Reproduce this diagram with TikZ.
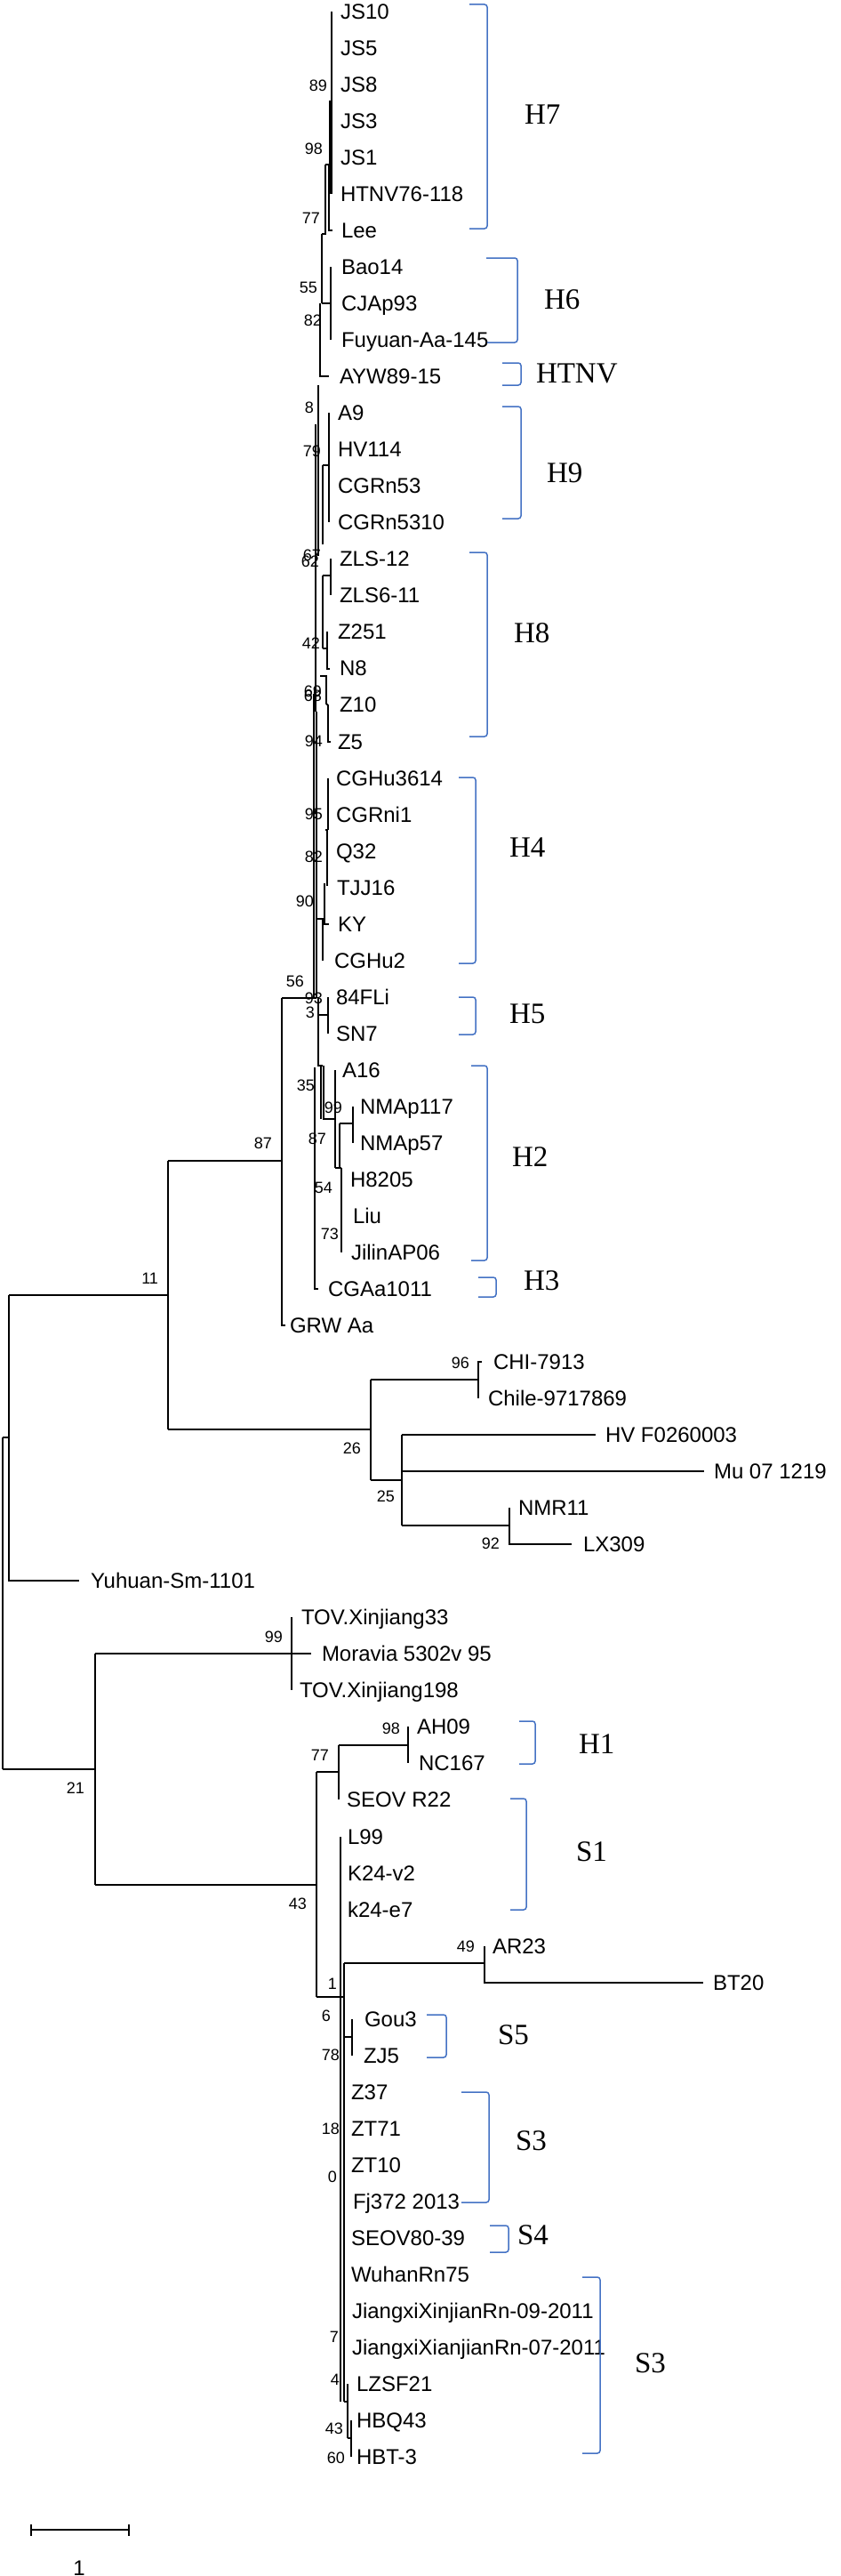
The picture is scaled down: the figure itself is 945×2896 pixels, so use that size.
\documentclass[tikz,border=0pt]{standalone}
\usepackage{fontspec}
\setmainfont{Liberation Sans}
\newfontfamily\cladeserif{Liberation Serif}
\definecolor{bblue}{RGB}{68,114,196}
\newcommand\LeafFont{\fontsize{24}{28}\selectfont}
\newcommand\BsFont{\fontsize{18}{20}\selectfont}
\newcommand\CladeFont{\cladeserif\fontsize{33}{36}\selectfont}
\tikzset{
  br/.style={line width=1.3pt},
  leaf/.style={anchor=base west, inner sep=0pt, outer sep=0pt, font=\LeafFont, yshift=-8.6pt},
  bs/.style={anchor=base east, inner sep=0pt, outer sep=0pt, font=\BsFont, yshift=-6.4pt},
  clade/.style={anchor=base west, inner sep=0pt, outer sep=0pt, font=\CladeFont, yshift=-10.9pt},
  bracket/.style={draw=bblue, line width=1.5pt, rounded corners=3pt},
}
\begin{document}
\begin{tikzpicture}[x=1pt,y=-1pt]
\fill[white] (0,0) rectangle (945,2896);
\useasboundingbox (0,0) rectangle (945,2896);

% ---------------- leaves ----------------
\node[leaf] (l1) at (383,13) {JS10};
\node[leaf] (l2) at (383,54) {JS5};
\node[leaf] (l3) at (383,95) {JS8};
\node[leaf] (l4) at (383,136) {JS3};
\node[leaf] (l5) at (383,177) {JS1};
\node[leaf] (l6) at (383,218) {HTNV76-118};
\node[leaf] (l7) at (384,259) {Lee};
\node[leaf] (l8) at (384,300) {Bao14};
\node[leaf] (l9) at (384,341) {CJAp93};
\node[leaf] (l10) at (384,382) {Fuyuan-Aa-145};
\node[leaf] (l11) at (382,423) {AYW89-15};
\node[leaf] (l12) at (380,464) {A9};
\node[leaf] (l13) at (380,505) {HV114};
\node[leaf] (l14) at (380,546) {CGRn53};
\node[leaf] (l15) at (380,587) {CGRn5310};
\node[leaf] (l16) at (382,628) {ZLS-12};
\node[leaf] (l17) at (382,669) {ZLS6-11};
\node[leaf] (l18) at (380,710) {Z251};
\node[leaf] (l19) at (382,751) {N8};
\node[leaf] (l20) at (382,792) {Z10};
\node[leaf] (l21) at (380,834) {Z5};
\node[leaf] (l22) at (378,875) {CGHu3614};
\node[leaf] (l23) at (378,916) {CGRni1};
\node[leaf] (l24) at (378,957) {Q32};
\node[leaf] (l25) at (379,998) {TJJ16};
\node[leaf] (l26) at (380,1039) {KY};
\node[leaf] (l27) at (376,1080) {CGHu2};
\node[leaf] (l28) at (378,1121) {84FLi};
\node[leaf] (l29) at (378,1162) {SN7};
\node[leaf] (l30) at (385,1203) {A16};
\node[leaf] (l31) at (405,1244) {NMAp117};
\node[leaf] (l32) at (405,1285) {NMAp57};
\node[leaf] (l33) at (394,1326) {H8205};
\node[leaf] (l34) at (397,1367) {Liu};
\node[leaf] (l35) at (395,1408) {JilinAP06};
\node[leaf] (l36) at (369,1449) {CGAa1011};
\node[leaf] (l37) at (326,1490) {GRW Aa};
\node[leaf] (l38) at (555,1531) {CHI-7913};
\node[leaf] (l39) at (549,1572) {Chile-9717869};
\node[leaf] (l40) at (681,1613) {HV F0260003};
\node[leaf] (l41) at (803,1654) {Mu 07 1219};
\node[leaf] (l42) at (583,1695) {NMR11};
\node[leaf] (l43) at (656,1736) {LX309};
\node[leaf] (l44) at (102,1777) {Yuhuan-Sm-1101};
\node[leaf] (l45) at (339,1818) {TOV.Xinjiang33};
\node[leaf] (l46) at (362,1859) {Moravia 5302v 95};
\node[leaf] (l47) at (337,1900) {TOV.Xinjiang198};
\node[leaf] (l48) at (469,1941) {AH09};
\node[leaf] (l49) at (471,1982) {NC167};
\node[leaf] (l50) at (390,2023) {SEOV R22};
\node[leaf] (l51) at (391,2065) {L99};
\node[leaf] (l52) at (391,2106) {K24-v2};
\node[leaf] (l53) at (391,2147) {k24-e7};
\node[leaf] (l54) at (554,2188) {AR23};
\node[leaf] (l55) at (802,2229) {BT20};
\node[leaf] (l56) at (410,2270) {Gou3};
\node[leaf] (l57) at (409,2311) {ZJ5};
\node[leaf] (l58) at (395,2352) {Z37};
\node[leaf] (l59) at (395,2393) {ZT71};
\node[leaf] (l60) at (395,2434) {ZT10};
\node[leaf] (l61) at (397,2475) {Fj372 2013};
\node[leaf] (l62) at (395,2516) {SEOV80-39};
\node[leaf] (l63) at (395,2557) {WuhanRn75};
\node[leaf] (l64) at (396,2598) {JiangxiXinjianRn-09-2011};
\node[leaf] (l65) at (396,2639) {JiangxiXianjianRn-07-2011};
\node[leaf] (l66) at (401,2680) {LZSF21};
\node[leaf] (l67) at (401,2721) {HBQ43};
\node[leaf] (l68) at (401,2762) {HBT-3};

% ---------------- upper clade branches ----------------
\draw[br] (373,13) -- (373,218);
\draw[br] (371,113) -- (371,218);
\draw[br] (370,185) -- (370,259) -- (374,259);
\draw[br] (366,185) -- (370,185);
\draw[br] (366,185) -- (366,263) -- (362,263);
\draw[br] (362,263) -- (362,341);
\draw[br] (372,300) -- (372,382);
\draw[br] (362,341) -- (372,341);
\draw[br] (360,341) -- (360,423) -- (370,423);
\draw[br] (358,433) -- (358,625);
\draw[br] (355,477) -- (355,800);
\draw[br] (370,464) -- (370,587);
\draw[br] (363,523) -- (370,523);
\draw[br] (363,523) -- (363,612);
\draw[br] (372,628) -- (372,669);
\draw[br] (363,647) -- (372,647);
\draw[br] (363,647) -- (363,729);
\draw[br] (368,710) -- (368,752) -- (371,752);
\draw[br] (363,729) -- (368,729);
\draw[br] (360,760) -- (367,760) -- (367,792);
\draw[br] (369,792) -- (369,834) -- (372,834);
\draw[br] (367,792) -- (369,792);
\draw[br] (353,780) -- (353,1122);
\draw[br] (356,800) -- (356,1122);
\draw[br] (369,875) -- (369,933);
\draw[br] (366,933) -- (369,933);
\draw[br] (368,933) -- (368,996);
\draw[br] (365,993) -- (365,1039) -- (370,1039);
\draw[br] (363,1033) -- (363,1080);
\draw[br] (356,1033) -- (365,1033);
\draw[br] (317,1122) -- (356,1122);
\draw[br] (369,1121) -- (369,1162);
\draw[br] (358,1141) -- (369,1141);
\draw[br] (358,1122) -- (358,1198) -- (363,1198);
\draw[br] (361,1198) -- (361,1258);
\draw[br] (364,1198) -- (364,1258) -- (377,1258);
\draw[br] (377,1203) -- (377,1313);
\draw[br] (382,1263) -- (382,1313);
\draw[br] (382,1263) -- (397,1263);
\draw[br] (397,1244) -- (397,1285);
\draw[br] (377,1313) -- (384,1313);
\draw[br] (384,1313) -- (384,1408);
\draw[br] (354,1200) -- (354,1449) -- (358,1449);
\draw[br] (317,1122) -- (317,1490) -- (321,1490);

% ---------------- deep branches ----------------
\draw[br] (3,1616) -- (3,1989);
\draw[br] (3,1616) -- (10,1616);
\draw[br] (10,1456) -- (10,1777) -- (89,1777);
\draw[br] (10,1456) -- (189,1456);
\draw[br] (189,1305) -- (189,1607);
\draw[br] (189,1305) -- (317,1305);
\draw[br] (189,1607) -- (417,1607);
\draw[br] (417,1551) -- (417,1664);
\draw[br] (417,1551) -- (538,1551);
\draw[br] (542,1531) -- (538,1531) -- (538,1572);
\draw[br] (417,1664) -- (452,1664);
\draw[br] (452,1613) -- (452,1715);
\draw[br] (452,1613) -- (670,1613);
\draw[br] (452,1654) -- (792,1654);
\draw[br] (452,1715) -- (573,1715);
\draw[br] (573,1695) -- (573,1736) -- (643,1736);

% ---------------- lower clade ----------------
\draw[br] (3,1989) -- (107,1989);
\draw[br] (107,1859) -- (107,2119);
\draw[br] (107,1859) -- (350,1859);
\draw[br] (328,1818) -- (328,1900);
\draw[br] (107,2119) -- (356,2119);
\draw[br] (356,1992) -- (356,2245);
\draw[br] (356,1992) -- (381,1992);
\draw[br] (381,1962) -- (381,2023);
\draw[br] (381,1962) -- (459,1962);
\draw[br] (459,1941) -- (459,1982);
\draw[br] (356,2245) -- (387,2245);
\draw[br] (383,2065) -- (383,2700);
\draw[br] (387,2207) -- (387,2700);
\draw[br] (387,2207) -- (545,2207);
\draw[br] (545,2188) -- (545,2229) -- (791,2229);
\draw[br] (387,2290) -- (396,2290);
\draw[br] (396,2270) -- (396,2311);
\draw[br] (387,2700) -- (391,2700);
\draw[br] (391,2680) -- (391,2741);
\draw[br] (391,2741) -- (395,2741);
\draw[br] (395,2721) -- (395,2762);

% ---------------- bootstrap values ----------------
\node[bs] (b1) at (368,96) {89};
\node[bs] (b2) at (363,167) {98};
\node[bs] (b3) at (360,245) {77};
\node[bs] (b4) at (357,323) {55};
\node[bs] (b5) at (362,360) {82};
\node[bs] (b6) at (353,458) {8};
\node[bs] (b7) at (361,507) {79};
\node[bs] (b8) at (361,624) {67};
\node[bs] (b9) at (359,631) {62};
\node[bs] (b10) at (360,723) {42};
\node[bs] (b11) at (362,777) {69};
\node[bs] (b12) at (362,782) {68};
\node[bs] (b13) at (363,833) {94};
\node[bs] (b14) at (363,915) {95};
\node[bs] (b15) at (363,963) {82};
\node[bs] (b16) at (353,1013) {90};
\node[bs] (b17) at (342,1103) {56};
\node[bs] (b18) at (363,1122) {93};
\node[bs] (b19) at (354,1138) {3};
\node[bs] (b20) at (354,1220) {35};
\node[bs] (b21) at (385,1245) {99};
\node[bs] (b22) at (367,1280) {87};
\node[bs] (b23) at (374,1335) {54};
\node[bs] (b24) at (381,1387) {73};
\node[bs] (b25) at (306,1285) {87};
\node[bs] (b26) at (178,1437) {11};
\node[bs] (b27) at (528,1532) {96};
\node[bs] (b28) at (406,1628) {26};
\node[bs] (b29) at (444,1682) {25};
\node[bs] (b30) at (562,1735) {92};
\node[bs] (b31) at (318,1840) {99};
\node[bs] (b32) at (450,1943) {98};
\node[bs] (b33) at (370,1973) {77};
\node[bs] (b34) at (95,2010) {21};
\node[bs] (b35) at (345,2140) {43};
\node[bs] (b36) at (379,2230) {1};
\node[bs] (b37) at (372,2266) {6};
\node[bs] (b38) at (382,2310) {78};
\node[bs] (b39) at (534,2188) {49};
\node[bs] (b40) at (382,2393) {18};
\node[bs] (b41) at (379,2447) {0};
\node[bs] (b42) at (381,2627) {7};
\node[bs] (b43) at (382,2675) {4};
\node[bs] (b44) at (386,2730) {43};
\node[bs] (b45) at (388,2763) {60};

% ---------------- clade brackets ----------------
\draw[bracket] (528,5) -- (548,5) -- (548,257) -- (528,257);
\draw[bracket] (547,290) -- (582,290) -- (582,385) -- (548,385);
\draw[bracket] (565,408) -- (586,408) -- (586,433) -- (565,433);
\draw[bracket] (565,457) -- (586,457) -- (586,583) -- (565,583);
\draw[bracket] (528,621) -- (548,621) -- (548,828) -- (528,828);
\draw[bracket] (516,874) -- (535,874) -- (535,1083) -- (516,1083);
\draw[bracket] (516,1121) -- (535,1121) -- (535,1163) -- (516,1163);
\draw[bracket] (530,1198) -- (548,1198) -- (548,1417) -- (530,1417);
\draw[bracket] (538,1436) -- (558,1436) -- (558,1458) -- (538,1458);
\draw[bracket] (584,1935) -- (602,1935) -- (602,1983) -- (584,1983);
\draw[bracket] (574,2022) -- (592,2022) -- (592,2147) -- (574,2147);
\draw[bracket] (480,2265) -- (502,2265) -- (502,2313) -- (480,2313);
\draw[bracket] (519,2352) -- (550,2352) -- (550,2476) -- (519,2476);
\draw[bracket] (551,2502) -- (572,2502) -- (572,2532) -- (551,2532);
\draw[bracket] (655,2560) -- (675,2560) -- (675,2758) -- (655,2758);

\node[clade] (c1) at (590,129) {H7};
\node[clade] (c2) at (612,337) {H6};
\node[clade] (c3) at (603,420) {HTNV};
\node[clade] (c4) at (615,532) {H9};
\node[clade] (c5) at (578,712) {H8};
\node[clade] (c6) at (573,953) {H4};
\node[clade] (c7) at (573,1140) {H5};
\node[clade] (c8) at (576,1301) {H2};
\node[clade] (c9) at (589,1440) {H3};
\node[clade] (c10) at (651,1961) {H1};
\node[clade] (c11) at (648,2082) {S1};
\node[clade] (c12) at (560,2288) {S5};
\node[clade] (c13) at (580,2407) {S3};
\node[clade] (c14) at (582,2513) {S4};
\node[clade] (c15) at (714,2657) {S3};

% ---------------- scale bar ----------------
\coordinate (sa) at (35,2844);
\coordinate (sb) at (145,2844);
\draw[line width=1.6pt] (sa) -- (sb);
\draw[line width=1.6pt] (35,2838) -- (35,2851);
\draw[line width=1.6pt] (145,2838) -- (145,2851);
\node[leaf, anchor=base] (scl) at (89,2887) {1};
\end{tikzpicture}
\end{document}
